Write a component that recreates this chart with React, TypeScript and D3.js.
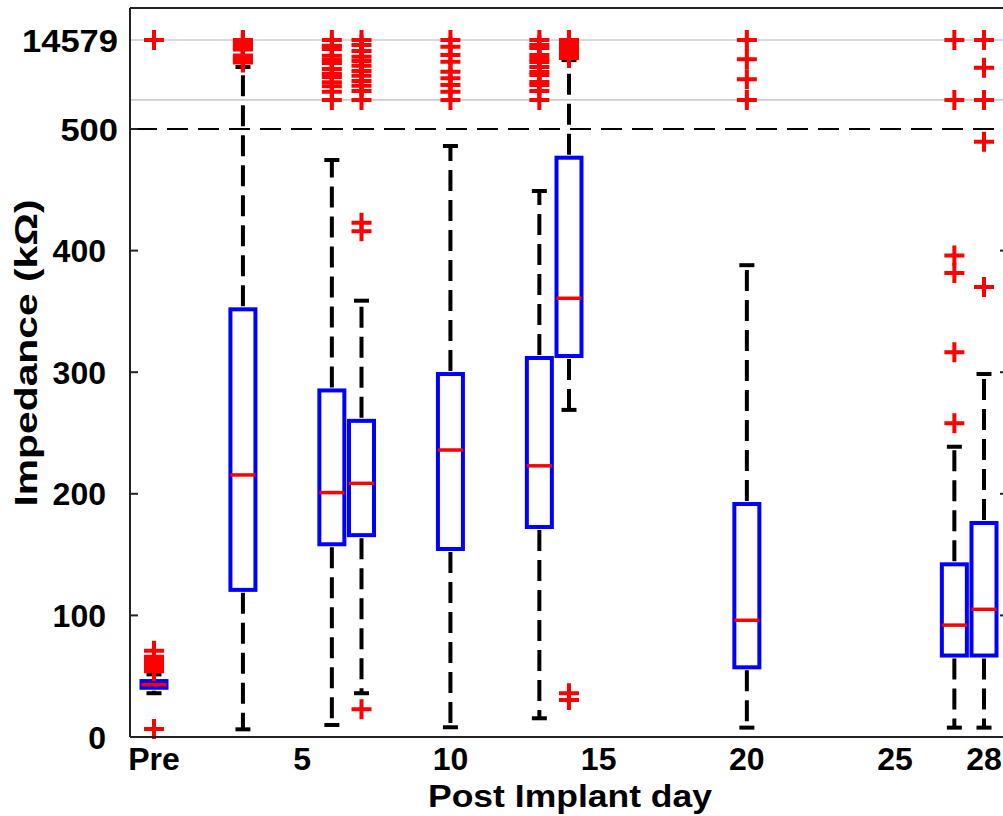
import React from 'react';
import * as d3 from 'd3';

// ---- data ----
const groupDays = [0, 3, 6, 7, 10, 13, 14, 20, 27, 28];
const q1 = [40.5, 121, 158.5, 166, 154.6, 172.7, 313.3, 57.3, 67, 67];
const medians = [43, 215.5, 201, 208.6, 236, 223, 360.8, 96, 92, 105];
const q3 = [46, 351.7, 285, 260, 298.5, 311.7, 476.4, 191.6, 142, 176];
const whiskerLow = [36, 6.3, 9.9, 36, 8, 15.4, 269, 7.7, 7.7, 7.7];
const whiskerHigh = [51.5, 10308, 474.5, 358.8, 486, 449, 11400, 388, 238.7, 298.5];

const outPre = [14579, 71, 66, 64.5, 63, 61.5, 60, 58.5, 57, 55.5, 54, 6.5];
const outD3 = [14579, 14422, 14184, 13947, 13709, 13472, 13235, 13077, 12128, 11890, 11653, 11416, 11179, 11020];
const outD6 = [14579, 13677, 13155, 12095, 11463, 10941, 9991, 9248, 8726, 7888, 7255, 6401, 5100];
const outD7 = [14579, 13788, 12839, 11937, 11257, 10514, 9675, 8932, 8093, 7350, 6511, 5100, 423, 416, 22.8];
const outD10 = [14579, 13519, 12206, 11146, 9564, 8520, 7460, 6401, 5100];
const outD13 = [14579, 13788, 13313, 12206, 11573, 11099, 10308, 9517, 9043, 7935, 7460, 6511, 5100];
const outD14 = [14579, 14343, 14105, 13868, 13631, 13393, 13156, 12919, 12681, 12444, 12206, 11969, 11731, 36, 30.4];
const outD20 = [14579, 11526, 8362, 5100];
const outD27 = [14579, 5100, 396, 381.5, 316.5, 258];
const outD28 = [14579, 10197, 5100, 489.5, 370];
const outliers = [outPre, outD3, outD6, outD7, outD10, outD13, outD14, outD20, outD27, outD28];

const yTicks = [0, 100, 200, 300, 400, 500, 14579];
const yRightTicks = [0, 100, 200, 300, 400];
const gridValues = [5100, 14579];
const xTicks = [0, 5, 10, 15, 20, 25, 28];
const xTickLabel = (d: number) => (d === 0 ? 'Pre' : String(d));

// ---- layout ----
const W = 1003, H = 816;
const left = 130, right = 1008, top = 8, bottom = 737;
const x = d3.scaleLinear().domain([0, 28]).range([154, 984]);
const y = d3.scaleLinear().domain([0, 500, 14579]).range([737, 129, 40]);
const bw = 25;
const font = '"Liberation Sans", Arial, Helvetica, sans-serif';

export default function App() {
  const cross = 'M-10,0H10M0,-10V10';
  return (
    <svg width={W} height={H} style={{ position: 'absolute', left: 0, top: 0, background: '#fff' }}>
      <rect x={0} y={0} width={W} height={H} fill="#fff" />
      {gridValues.map((g, i) => (
        <line key={'g' + i} x1={left} x2={right} y1={y(g)} y2={y(g)} stroke="#cccccc" strokeWidth={1.6} />
      ))}
      <line x1={left} x2={right} y1={y(500)} y2={y(500)} stroke="#000" strokeWidth={2} strokeDasharray="21,10" strokeDashoffset={-6} />

      {groupDays.map((d, i) => {
        const cx = x(d);
        return (
          <g key={'b' + i}>
            <line x1={cx} x2={cx} y1={y(q3[i])} y2={y(whiskerHigh[i])} stroke="#000" strokeWidth={4} strokeDasharray="21,9" strokeDashoffset={-3} />
            <line x1={cx} x2={cx} y1={y(q1[i])} y2={y(whiskerLow[i])} stroke="#000" strokeWidth={4} strokeDasharray="21,9" strokeDashoffset={-3} />
            <line x1={cx - 7.5} x2={cx + 7.5} y1={y(whiskerHigh[i])} y2={y(whiskerHigh[i])} stroke="#000" strokeWidth={4} />
            <line x1={cx - 7.5} x2={cx + 7.5} y1={y(whiskerLow[i])} y2={y(whiskerLow[i])} stroke="#000" strokeWidth={4} />
            <rect x={cx - bw / 2} y={y(q3[i])} width={bw} height={y(q1[i]) - y(q3[i])} fill="none" stroke="#0000ff" strokeWidth={4} />
            <line x1={cx - bw / 2} x2={cx + bw / 2} y1={y(medians[i])} y2={y(medians[i])} stroke="#ff0000" strokeWidth={3.5} />
          </g>
        );
      })}

      {groupDays.map((d, i) => (
        <g key={'o' + i}>
          {outliers[i].map((v, j) => (
            <path key={j} d={cross} transform={`translate(${x(d)},${y(v)})`} stroke="#ff0000" strokeWidth={4} fill="none" />
          ))}
        </g>
      ))}

      {/* frame */}
      <line x1={left} x2={left} y1={top} y2={bottom} stroke="#222" strokeWidth={2} />
      <line x1={right} x2={right} y1={top} y2={bottom} stroke="#222" strokeWidth={2} />
      <line x1={left} x2={right} y1={top} y2={top} stroke="#222" strokeWidth={2.2} />
      <line x1={left} x2={right} y1={bottom} y2={bottom} stroke="#222" strokeWidth={2.2} />

      {yTicks.map((t, i) => {
        const big = t >= 500;
        const label = String(t);
        return (
          <g key={'yt' + i}>
            {t <= 500 && <line x1={left} x2={left + 8} y1={y(t)} y2={y(t)} stroke="#222" strokeWidth={2} />}
            <text
              x={big ? 118 : 106}
              y={y(t) + 11.5}
              textAnchor="end"
              fontFamily={font}
              fontWeight="bold"
              fontSize={32}
              fill="#000"
              {...(big ? { textLength: label.length * 19.2, lengthAdjust: 'spacingAndGlyphs' } : {})}
            >
              {label}
            </text>
          </g>
        );
      })}
      {yRightTicks.map((t, i) => (
        <line key={'yr' + i} x1={right - 8} x2={right} y1={y(t)} y2={y(t)} stroke="#222" strokeWidth={2} />
      ))}

      {xTicks.map((t, i) => (
        <text key={'xt' + i} x={x(t)} y={770} textAnchor="middle" fontFamily={font} fontWeight="bold" fontSize={32} fill="#000">
          {xTickLabel(t)}
        </text>
      ))}

      <text x={570} y={807} textAnchor="middle" fontFamily={font} fontWeight="bold" fontSize={32} textLength={284} lengthAdjust="spacingAndGlyphs" fill="#000">
        Post Implant day
      </text>
      <text transform="translate(37,353) rotate(-90)" textAnchor="middle" fontFamily={font} fontWeight="bold" fontSize={32} textLength={307} lengthAdjust="spacingAndGlyphs" fill="#000">
        Impedance (kΩ)
      </text>
    </svg>
  );
}
